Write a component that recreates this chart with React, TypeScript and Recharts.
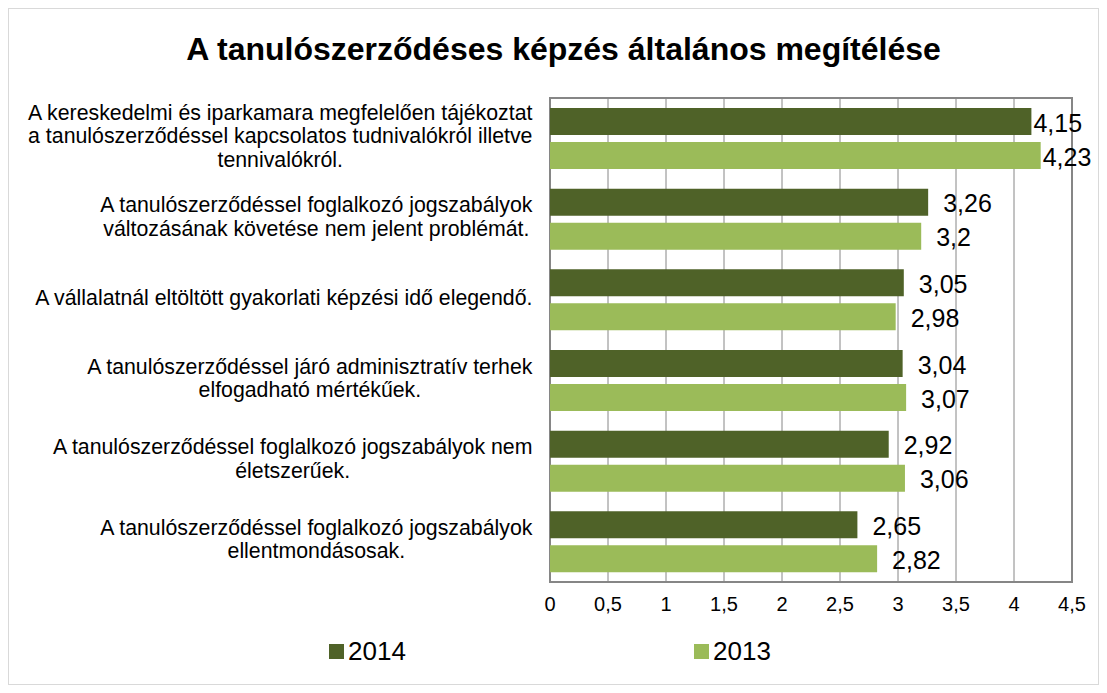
import React from "react";
import {
  BarChart,
  Bar,
  XAxis,
  YAxis,
  CartesianGrid,
  ReferenceArea,
  LabelList,
} from "recharts";

const categories = [
  "A kereskedelmi és iparkamara megfelelően tájékoztat\na tanulószerződéssel kapcsolatos tudnivalókról illetve\ntennivalókról.",
  "A tanulószerződéssel foglalkozó jogszabályok\nváltozásának követése nem jelent problémát.",
  "A vállalatnál eltöltött gyakorlati képzési idő elegendő.",
  "A tanulószerződéssel járó adminisztratív terhek\nelfogadható mértékűek.",
  "A tanulószerződéssel foglalkozó jogszabályok nem\néletszerűek.",
  "A tanulószerződéssel foglalkozó jogszabályok\nellentmondásosak.",
];
const values2014 = [4.15, 3.26, 3.05, 3.04, 2.92, 2.65];
const values2013 = [4.23, 3.2, 2.98, 3.07, 3.06, 2.82];
const xTicks = [0, 0.5, 1, 1.5, 2, 2.5, 3, 3.5, 4, 4.5];

const DARK = "#4F6228";
const LIGHT = "#9BBB59";
const FONT = '"Liberation Sans", Arial, sans-serif';

const W = 1091;
const H = 677;
const PLOT_RIGHT = 1064;

const data = categories.map((name, i) => ({
  name,
  y2014: values2014[i],
  y2013: values2013[i],
}));

let ctx: CanvasRenderingContext2D | null = null;
function measure(text: string, font: string) {
  if (!ctx) ctx = document.createElement("canvas").getContext("2d");
  if (!ctx) return text.length * 10;
  ctx.font = font;
  return ctx.measureText(text).width;
}

const fmt = (v: number) => String(v).replace(".", ",");

// right-aligned block, lines centred inside it (like Excel does)
function CategoryTick(props: any) {
  const { x, y, payload } = props;
  const lines: string[] = String(payload.value).split("\n");
  const font = `21.3px ${FONT}`;
  const maxW = Math.max(...lines.map((l) => measure(l, font)));
  const cx = x - maxW / 2;
  return (
    <g>
      {lines.map((l, i) => (
        <text
          key={i}
          x={cx}
          y={y - 2 + (i - (lines.length - 1) / 2) * 23.5}
          textAnchor="middle"
          dominantBaseline="central"
          fontSize={21.3}
          fontFamily={FONT}
          fill="#000"
        >
          {l}
        </text>
      ))}
    </g>
  );
}

function ValueLabel(props: any) {
  const { x, y, width, height, value } = props;
  const txt = fmt(value);
  const tw = measure(txt, `25px ${FONT}`);
  const end = x + width;
  const off = end + 15 + tw > PLOT_RIGHT ? 2 : 15;
  return (
    <text
      x={end + off}
      y={y + height / 2 + 1}
      dominantBaseline="central"
      fontSize={25}
      fontFamily={FONT}
      fill="#000"
    >
      {txt}
    </text>
  );
}

function LegendItem({ color, label, left }: { color: string; label: string; left: number }) {
  return (
    <div style={{ position: "absolute", left, top: 627, height: 30, display: "flex", alignItems: "center" }}>
      <div style={{ width: 15, height: 15, background: color, marginRight: 4 }} />
      <span style={{ fontSize: 26, fontFamily: FONT, color: "#000" }}>{label}</span>
    </div>
  );
}

export default function App() {
  return (
    <div
      style={{
        position: "relative",
        width: W,
        height: H,
        border: "1px solid #d9d9d9",
        boxSizing: "border-box",
        background: "#fff",
      }}
    >
      <div
        style={{
          position: "absolute",
          left: 18,
          top: 22,
          width: W - 18,
          textAlign: "center",
          fontFamily: FONT,
          fontWeight: "bold",
          fontSize: 32,
          color: "#000",
        }}
      >
        A tanulószerződéses képzés általános megítélése
      </div>
      <div style={{ position: "absolute", left: -1, top: -1 }}>
        <BarChart
          width={W}
          height={H}
          data={data}
          layout="vertical"
          margin={{ top: 90, right: W - PLOT_RIGHT, bottom: 73, left: 0 }}
          barSize={27}
          barGap={7}
        >
          <CartesianGrid horizontal={false} stroke="#868686" strokeWidth={1} />
          <XAxis
            type="number"
            domain={[0, 4.5]}
            ticks={xTicks}
            tickFormatter={fmt}
            axisLine={false}
            tickLine={false}
            tickSize={0}
            tickMargin={15}
            height={30}
            interval={0}
            tick={{ fontSize: 20, fontFamily: FONT, fill: "#000" }}
          />
          <YAxis
            type="category"
            dataKey="name"
            width={542}
            axisLine={false}
            tickLine={false}
            tickSize={0}
            tickMargin={17}
            interval={0}
            tick={<CategoryTick />}
          />
          <Bar dataKey="y2014" fill={DARK} isAnimationActive={false}>
            <LabelList dataKey="y2014" content={<ValueLabel />} />
          </Bar>
          <Bar dataKey="y2013" fill={LIGHT} isAnimationActive={false}>
            <LabelList dataKey="y2013" content={<ValueLabel />} />
          </Bar>
          <ReferenceArea
            x1={0}
            x2={4.5}
            fill="none"
            stroke="#868686"
            strokeWidth={2}
            ifOverflow="visible"
          />
        </BarChart>
      </div>
      <LegendItem color={DARK} label="2014" left={320} />
      <LegendItem color={LIGHT} label="2013" left={685} />
    </div>
  );
}
